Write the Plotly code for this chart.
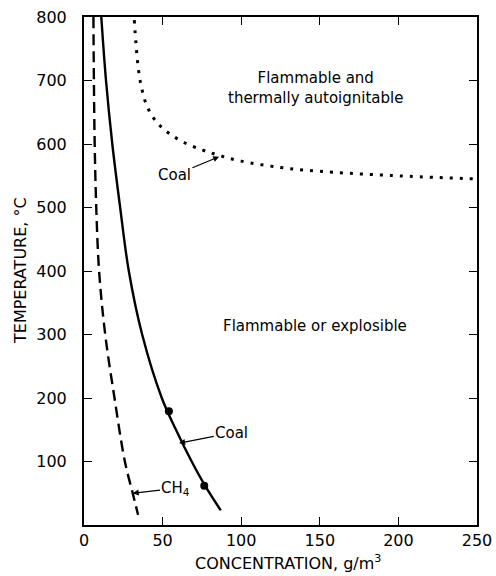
import plotly.graph_objects as go

# Lower flammability limit for coal dust (solid)
coal_conc = [11, 14, 18, 23, 28.5, 37, 49.5, 58.5, 68.5, 77, 87]
coal_temp = [800, 700, 600, 500, 400, 300, 200, 150, 100, 62, 23]

# Data points on coal curve
pts_conc = [54, 76.5]
pts_temp = [179, 62]

# Lower limit for CH4 (dashed)
ch4_conc = [6, 6.3, 6.8, 7.8, 9.6, 13.5, 19.4, 26, 31, 34.4]
ch4_temp = [800, 700, 600, 500, 400, 300, 200, 100, 50, 16]

# Thermal autoignition boundary for coal (dotted)
auto_conc = [32, 33, 34.5, 36.5, 40, 46, 54, 64, 76, 86, 100, 125, 150, 190, 250]
auto_temp = [795, 760, 720, 690, 660, 635, 617, 602, 590, 582, 573, 563, 557, 551, 545]

x_ticks = [0, 50, 100, 150, 200, 250]
y_ticks = [100, 200, 300, 400, 500, 600, 700, 800]

FONT = "DejaVu Sans"

fig = go.Figure()
fig.add_trace(go.Scatter(x=coal_conc, y=coal_temp, mode="lines",
                         line=dict(color="black", width=2.4, shape="spline", smoothing=1)))
fig.add_trace(go.Scatter(x=ch4_conc, y=ch4_temp, mode="lines",
                         line=dict(color="black", width=2.4, dash="11px,6px", shape="spline", smoothing=1)))
fig.add_trace(go.Scatter(x=auto_conc, y=auto_temp, mode="lines",
                         line=dict(color="black", width=3, dash="3px,7px", shape="spline", smoothing=1)))
fig.add_trace(go.Scatter(x=pts_conc, y=pts_temp, mode="markers",
                         marker=dict(color="black", size=8)))

ann_font = dict(family=FONT, size=15, color="black")
arrow = dict(showarrow=True, arrowhead=2, arrowsize=1, arrowwidth=1.2,
             arrowcolor="black", standoff=0)
annotations = [
    dict(x=86, y=580, ax=57.5, ay=551, xref="x", yref="y", axref="x", ayref="y",
         text="Coal", font=ann_font, **arrow),
    dict(x=60.5, y=129, ax=94, ay=145, xref="x", yref="y", axref="x", ayref="y",
         text="Coal", font=ann_font, **arrow),
    dict(x=31, y=50, ax=58.5, ay=58, xref="x", yref="y", axref="x", ayref="y",
         text="CH<sub>4</sub>", font=ann_font, **arrow),
    dict(x=147, y=688, xref="x", yref="y", text="Flammable and<br>thermally autoignitable",
         showarrow=False, font=ann_font, align="center"),
    dict(x=147, y=313, xref="x", yref="y", text="Flammable or explosible",
         showarrow=False, font=ann_font),
    # axis titles
    dict(x=0, y=0.5, xref="paper", yref="paper", xanchor="center", yanchor="middle",
         xshift=-64, text="TEMPERATURE, °C", textangle=-90, showarrow=False,
         font=dict(family=FONT, size=16, color="black")),
    dict(x=0.519, y=0, xref="paper", yref="paper", xanchor="center", yanchor="middle",
         yshift=-37, text="CONCENTRATION, g/m<sup>3</sup>", showarrow=False,
         font=dict(family=FONT, size=16, color="black")),
]

fig.update_layout(
    width=496, height=576,
    margin=dict(l=84, r=19, t=17, b=51, autoexpand=False),
    paper_bgcolor="white", plot_bgcolor="white",
    showlegend=False,
    font=dict(family=FONT, size=16, color="black"),
    annotations=annotations,
)
fig.update_xaxes(range=[0, 250], tickvals=x_ticks, ticktext=[str(v) for v in x_ticks],
                 ticks="inside", ticklen=8, tickwidth=1.2, tickcolor="black",
                 showline=True, linecolor="black", linewidth=2, mirror="ticks",
                 showgrid=False, zeroline=False, automargin=False,
                 ticklabelstandoff=0, ticklabeloverflow="allow",
                 tickfont=dict(family=FONT, size=16))
fig.update_yaxes(range=[0, 800], tickvals=y_ticks, ticktext=[str(v) for v in y_ticks],
                 ticks="inside", ticklen=8, tickwidth=1.2, tickcolor="black",
                 showline=True, linecolor="black", linewidth=2, mirror="ticks",
                 showgrid=False, zeroline=False, automargin=False,
                 ticklabelstandoff=12, ticklabeloverflow="allow",
                 tickfont=dict(family=FONT, size=16))

# remove the default page margin so the figure fills the window exactly
fig.write_html("out.html", config={"displayModeBar": False},
               post_script="document.body.style.margin='0';document.body.style.overflow='hidden';")
